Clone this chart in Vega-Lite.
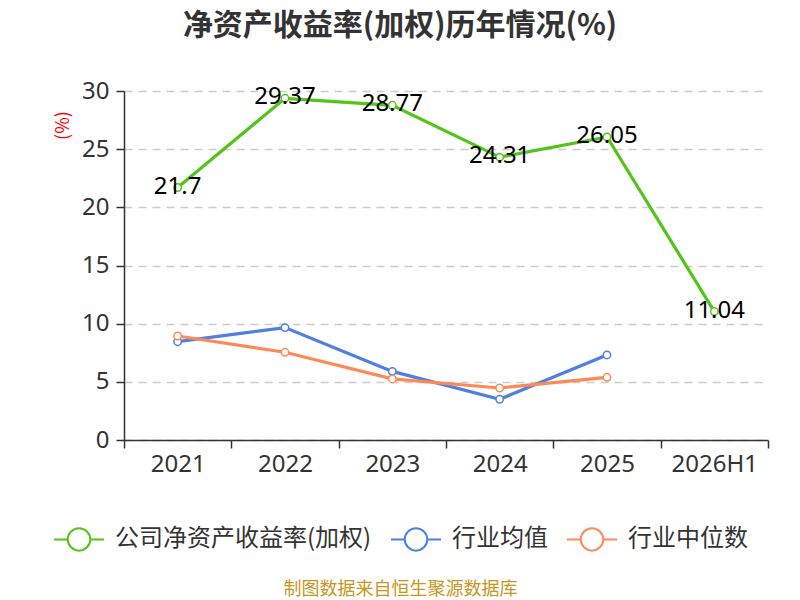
{
  "$schema": "https://vega.github.io/schema/vega-lite/v6.json",
  "autosize": {"type": "none"},
  "width": 644,
  "height": 349,
  "padding": {"left": 124, "top": 91, "right": 32, "bottom": 160},
  "background": "white",
  "title": {
    "text": "净资产收益率(加权)历年情况(%)",
    "fontSize": 30,
    "fontWeight": "bold",
    "color": "#333333",
    "font": "Noto Sans CJK SC",
    "anchor": "middle",
    "dx": -46,
    "offset": 38
  },
  "data": {
    "values": [
      {"year": "2021", "series": "公司净资产收益率(加权)", "value": 21.7},
      {"year": "2022", "series": "公司净资产收益率(加权)", "value": 29.37},
      {"year": "2023", "series": "公司净资产收益率(加权)", "value": 28.77},
      {"year": "2024", "series": "公司净资产收益率(加权)", "value": 24.31},
      {"year": "2025", "series": "公司净资产收益率(加权)", "value": 26.05},
      {"year": "2026H1", "series": "公司净资产收益率(加权)", "value": 11.04},
      {"year": "2021", "series": "行业均值", "value": 8.45},
      {"year": "2022", "series": "行业均值", "value": 9.66},
      {"year": "2023", "series": "行业均值", "value": 5.9},
      {"year": "2024", "series": "行业均值", "value": 3.5},
      {"year": "2025", "series": "行业均值", "value": 7.31},
      {"year": "2021", "series": "行业中位数", "value": 8.94},
      {"year": "2022", "series": "行业中位数", "value": 7.54},
      {"year": "2023", "series": "行业中位数", "value": 5.25},
      {"year": "2024", "series": "行业中位数", "value": 4.47},
      {"year": "2025", "series": "行业中位数", "value": 5.39}
    ]
  },
  "encoding": {
    "x": {
      "field": "year",
      "type": "nominal",
      "sort": null,
      "scale": {"type": "band", "paddingInner": 0, "paddingOuter": 0},
      "axis": {
        "title": "制图数据来自恒生聚源数据库",
        "titleColor": "#c8961e",
        "titleFontSize": 18,
        "titleFontWeight": "normal",
        "titleFont": "Noto Sans CJK SC",
        "titleX": 276,
        "titleY": 149,
        "titleAlign": "center",
        "titleBaseline": "middle",
        "labelAngle": 0,
        "labelFontSize": 24,
        "labelFont": "Noto Sans",
        "labelColor": "#333333",
        "labelPadding": 4,
        "domainColor": "#333333",
        "domainWidth": 1.5,
        "tickColor": "#333333",
        "tickWidth": 1.5,
        "tickSize": 8,
        "tickBand": "extent",
        "grid": false
      }
    },
    "y": {
      "field": "value",
      "type": "quantitative",
      "scale": {"domain": [0, 30]},
      "axis": {
        "title": "(%)",
        "titleColor": "red",
        "titleFontSize": 18,
        "titleFontWeight": "normal",
        "titleFont": "Noto Sans CJK SC",
        "titleX": -61,
        "titleY": 34,
        "titleAlign": "center",
        "titleBaseline": "middle",
        "values": [0, 5, 10, 15, 20, 25, 30],
        "labelFontSize": 24,
        "labelFont": "Noto Sans",
        "labelColor": "#333333",
        "labelPadding": 7,
        "domainColor": "#333333",
        "domainWidth": 1.5,
        "tickColor": "#333333",
        "tickWidth": 1.5,
        "tickSize": 8,
        "grid": true,
        "gridColor": "#cccccc",
        "gridDash": [8, 6],
        "gridWidth": 1.5
      }
    },
    "color": {
      "field": "series",
      "type": "nominal",
      "scale": {
        "domain": ["公司净资产收益率(加权)", "行业均值", "行业中位数"],
        "range": ["#52c41a", "#4e80e2", "#fc8a56"]
      },
      "legend": {
        "title": null,
        "orient": "none",
        "direction": "horizontal",
        "legendX": -71,
        "legendY": 422,
        "symbolType": "M-1,0L-0.45,0M0.45,0L1,0M0.45,0A0.45,0.45,0,1,1,-0.45,0A0.45,0.45,0,1,1,0.45,0",
        "symbolSize": 2500,
        "symbolStrokeWidth": 2,
        "symbolFillColor": "white",
        "labelFontSize": 24,
        "labelFont": "Noto Sans CJK SC",
        "labelColor": "#333333",
        "labelOffset": 10,
        "labelLimit": 400,
        "columnPadding": 15,
        "encode": {
          "symbols": {
            "update": {
              "stroke": {"scale": "color", "field": "value"},
              "fill": {"value": "white"},
              "strokeWidth": {"value": 2},
              "opacity": {"value": 1}
            }
          }
        }
      }
    }
  },
  "layer": [
    {
      "mark": {"type": "line", "strokeWidth": 3.2}
    },
    {
      "mark": {"type": "point", "filled": false, "fill": "white", "size": 55, "strokeWidth": 1.5, "opacity": 1}
    },
    {
      "transform": [{"filter": "datum.series === '公司净资产收益率(加权)'"}],
      "mark": {"type": "text", "fontSize": 24, "font": "Noto Sans", "color": "black", "align": "center", "baseline": "middle", "dy": -1},
      "encoding": {
        "text": {"field": "value", "type": "quantitative"},
        "color": {"value": "black"}
      }
    }
  ],
  "config": {
    "view": {"stroke": null}
  }
}
